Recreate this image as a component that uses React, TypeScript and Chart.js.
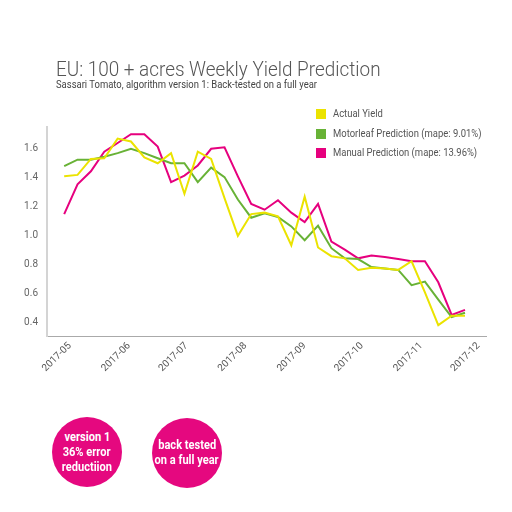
import React, { useEffect, useRef } from "react";
import { Chart, registerables } from "chart.js";

Chart.register(...registerables);

// ---------- data ----------
const weekDates = [
  "2017-04-28", "2017-05-05", "2017-05-12", "2017-05-19", "2017-05-26",
  "2017-06-02", "2017-06-09", "2017-06-16", "2017-06-23", "2017-06-30",
  "2017-07-07", "2017-07-14", "2017-07-21", "2017-07-28",
  "2017-08-04", "2017-08-11", "2017-08-18", "2017-08-25",
  "2017-09-01", "2017-09-08", "2017-09-15", "2017-09-22", "2017-09-29",
  "2017-10-06", "2017-10-13", "2017-10-20", "2017-10-27",
  "2017-11-03", "2017-11-10", "2017-11-17", "2017-11-24",
];

const actualYield = [
  1.41, 1.42, 1.53, 1.535, 1.67, 1.65, 1.54, 1.5, 1.57, 1.29,
  1.58, 1.53, 1.26, 1.0, 1.15, 1.16, 1.135, 0.935, 1.27, 0.92,
  0.86, 0.845, 0.765, 0.78, 0.775, 0.765, 0.825, 0.61, 0.385, 0.45, 0.45,
];

const motorleafPrediction = [
  1.48, 1.525, 1.525, 1.545, 1.57, 1.6, 1.57, 1.535, 1.5, 1.5,
  1.37, 1.47, 1.405, 1.25, 1.125, 1.155, 1.13, 1.065, 0.97, 1.07,
  0.915, 0.845, 0.84, 0.785, 0.775, 0.765, 0.66, 0.685, 0.56, 0.44, 0.47,
];

const manualPrediction = [
  1.15, 1.355, 1.445, 1.58, 1.64, 1.7, 1.7, 1.615, 1.37, 1.415,
  1.485, 1.6, 1.61, 1.41, 1.22, 1.18, 1.245, 1.16, 1.095, 1.22,
  0.96, 0.905, 0.845, 0.865, 0.855, 0.84, 0.825, 0.825, 0.68, 0.455, 0.49,
];

const seriesNames = [
  "Actual Yield",
  "Motorleaf Prediction (mape: 9.01%)",
  "Manual Prediction (mape: 13.96%)",
];
const seriesColors = ["#ebe300", "#68b236", "#e6007e"];

const monthTickDates = [
  "2017-05-01", "2017-06-01", "2017-07-01", "2017-08-01",
  "2017-09-01", "2017-10-01", "2017-11-01", "2017-12-01",
];
const monthTickLabels = [
  "2017-05", "2017-06", "2017-07", "2017-08",
  "2017-09", "2017-10", "2017-11", "2017-12",
];
const yTickValues = [0.4, 0.6, 0.8, 1.0, 1.2, 1.4, 1.6];
const xRange = ["2017-04-19", "2017-12-05"];
const yRange = [0.31, 1.75];

const titleText = "EU: 100 + acres Weekly Yield Prediction";
const subtitleText = "Sassari Tomato, algorithm version 1: Back-tested on a full year";
const badgeLines = [
  ["version 1", "36% error", "reductiion"],
  ["back tested", "on a full year"],
];

const toTime = (s: string) => Date.parse(s + "T00:00:00Z");

export default function App() {
  const canvasRef = useRef<HTMLCanvasElement | null>(null);

  useEffect(() => {
    if (!canvasRef.current) return;
    const seriesValues = [actualYield, motorleafPrediction, manualPrediction];
    const tickFont = { family: "Roboto", size: 10 };
    const chart = new Chart(canvasRef.current, {
      type: "line",
      data: {
        datasets: seriesValues.map((vals, k) => ({
          label: seriesNames[k],
          data: vals.map((v, i) => ({ x: toTime(weekDates[i]), y: v })),
          borderColor: seriesColors[k],
          backgroundColor: seriesColors[k],
          borderWidth: 2,
          pointRadius: 0,
          tension: 0,
          fill: false,
        })),
      },
      options: {
        responsive: false,
        animation: false,
        layout: { padding: { top: 127, left: 0, right: 26, bottom: 116 } },
        plugins: {
          legend: { display: false },
          title: { display: false },
          tooltip: { enabled: false },
        },
        scales: {
          x: {
            type: "linear",
            min: toTime(xRange[0]),
            max: toTime(xRange[1]),
            afterFit: (s: any) => {
              s.height = 60;
            },
            afterBuildTicks: (s: any) => {
              s.ticks = monthTickDates.map((d) => ({ value: toTime(d) }));
            },
            ticks: {
              autoSkip: false,
              minRotation: 45,
              maxRotation: 45,
              padding: 4,
              color: "#555555",
              font: tickFont,
              callback: (_v: any, i: number) => monthTickLabels[i],
            },
            grid: { display: true, color: "rgba(0,0,0,0)", drawTicks: false },
            border: { display: true, color: "#aaaaaa", width: 1 },
          },
          y: {
            type: "linear",
            min: yRange[0],
            max: yRange[1],
            afterFit: (s: any) => {
              s.width = 47;
            },
            afterBuildTicks: (s: any) => {
              s.ticks = yTickValues.map((v) => ({ value: v }));
            },
            ticks: {
              padding: 9,
              color: "#666666",
              font: tickFont,
              callback: (v: any) => Number(v).toFixed(1),
            },
            grid: { display: true, color: "rgba(0,0,0,0)", drawTicks: false },
            border: { display: true, color: "#d4d4d4", width: 2 },
          },
        },
      },
    } as any);
    return () => chart.destroy();
  }, []);

  const condensed = (extra: React.CSSProperties = {}): React.CSSProperties => ({
    display: "inline-block",
    transform: "scaleX(0.9)",
    transformOrigin: "left center",
    whiteSpace: "nowrap",
    ...extra,
  });

  const legendCenters = [114, 134, 153];
  const badgeCenters = [
    [87, 452],
    [187, 453],
  ];

  return (
    <div
      style={{
        position: "absolute",
        left: 0,
        top: 0,
        width: 512,
        height: 512,
        background: "#ffffff",
        fontFamily: "Roboto, sans-serif",
        overflow: "hidden",
      }}
    >
      <canvas
        ref={canvasRef}
        width={512}
        height={512}
        style={{ position: "absolute", left: 0, top: 0, display: "block" }}
      />
      <div
        style={{
          position: "absolute",
          left: 56,
          top: 59,
          fontSize: 21,
          lineHeight: 1,
          fontWeight: 300,
          color: "#555555",
        }}
      >
        <span style={condensed()}>{titleText}</span>
      </div>
      <div
        style={{
          position: "absolute",
          left: 56,
          top: 80,
          fontSize: 10.5,
          lineHeight: 1,
          color: "#444444",
        }}
      >
        <span style={condensed()}>{subtitleText}</span>
      </div>
      {seriesNames.map((name, k) => (
        <div
          key={name}
          style={{
            position: "absolute",
            left: 316,
            top: legendCenters[k] - 6,
            height: 12,
            display: "flex",
            alignItems: "center",
          }}
        >
          <div style={{ width: 10, height: 10, background: seriesColors[k] }} />
          <span
            style={condensed({
              marginLeft: 7,
              fontSize: 10.5,
              lineHeight: "12px",
              color: "#555555",
            })}
          >
            {name}
          </span>
        </div>
      ))}
      {badgeLines.map((lines, k) => (
        <div
          key={k}
          style={{
            position: "absolute",
            left: badgeCenters[k][0] - 35,
            top: badgeCenters[k][1] - 35,
            width: 70,
            height: 70,
            borderRadius: "50%",
            background: "#e5087f",
            display: "flex",
            flexDirection: "column",
            alignItems: "center",
            justifyContent: "center",
            color: "#ffffff",
            fontWeight: 700,
            fontSize: 12.3,
            lineHeight: "15px",
          }}
        >
          {lines.map((ln) => (
            <span
              key={ln}
              style={{
                display: "block",
                transform: "scaleX(0.9)",
                whiteSpace: "nowrap",
              }}
            >
              {ln}
            </span>
          ))}
        </div>
      ))}
    </div>
  );
}
